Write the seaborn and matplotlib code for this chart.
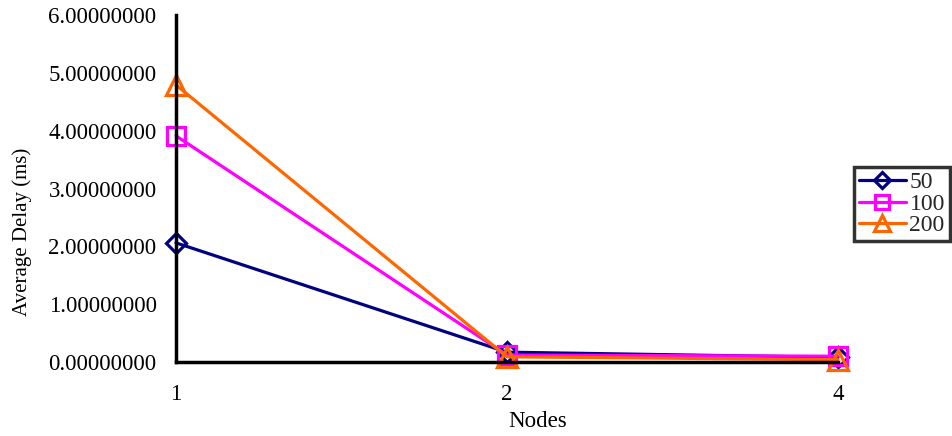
import matplotlib
matplotlib.use("Agg")
import matplotlib.pyplot as plt
import seaborn as sns
import pandas as pd
from matplotlib.ticker import FormatStrFormatter
from matplotlib.lines import Line2D

nodes = ["1", "2", "4"]
delay_50 = [2.06, 0.17, 0.08]
delay_100 = [3.91, 0.12, 0.10]
delay_200 = [4.79, 0.09, 0.04]
series_names = ["50", "100", "200"]

df = pd.DataFrame({
    "Nodes": nodes * 3,
    "Delay": delay_50 + delay_100 + delay_200,
    "Series": [s for s in series_names for _ in nodes],
})

sns.set_theme(style="white")
plt.rcParams["font.family"] = ["Liberation Serif", "DejaVu Serif"]

fig = plt.figure(figsize=(9.53, 4.36), dpi=100)
ax = fig.add_axes([176 / 953, 1 - 362 / 436, (838 - 176) / 953, (362 - 15) / 436])

palette = {"50": "#000080", "100": "#FF00FF", "200": "#FF6600"}
markers = {"50": "D", "100": "s", "200": "^"}
sizes = {"50": 10, "100": 13, "200": 15}

sns.lineplot(data=df, x="Nodes", y="Delay", hue="Series", style="Series",
             palette=palette, markers=markers, dashes=False, linewidth=2.3,
             markersize=13, markerfacecolor="none", markeredgewidth=2.3,
             ax=ax, legend=False, sort=False)

# per-series hollow markers
for line, name in zip(ax.lines, series_names):
    line.set_markeredgecolor(palette[name])
    line.set_markerfacecolor("none")
    line.set_markersize(sizes[name])
    line.set_clip_on(False)

ax.set_xlim(0, 2)
ax.set_ylim(0, 6)
ax.set_yticks([0, 1, 2, 3, 4, 5, 6])
ax.yaxis.set_major_formatter(FormatStrFormatter("%.8f"))
ax.set_xticks([0, 1, 2])
ax.set_xticklabels(nodes)

for side in ["top", "right"]:
    ax.spines[side].set_visible(False)
for side in ["left", "bottom"]:
    ax.spines[side].set_color("black")
    ax.spines[side].set_linewidth(2.5)

ax.tick_params(axis="y", direction="out", length=6, width=2, colors="black",
               labelsize=16.5, pad=8)
ax.tick_params(axis="x", direction="out", length=0, labelsize=16.5, pad=16,
               colors="black")
ax.set_xlabel("Nodes", fontsize=16.5, color="black")
ax.xaxis.set_label_coords(0.547, -0.172)
ax.xaxis.label.set_va("center")
ax.set_ylabel("Average Delay (ms)", fontsize=15, color="black")
ax.yaxis.set_label_coords(-0.232, 0.375)
ax.yaxis.label.set_va("center")
ax.grid(False)

handles = [Line2D([0], [0], color=palette[n], marker=markers[n], markersize=sizes[n] * 0.8,
                  markerfacecolor="none", markeredgecolor=palette[n],
                  markeredgewidth=2.3, linewidth=2.3) for n in series_names]
leg = fig.legend(handles, series_names, loc="upper left",
                 bbox_to_anchor=(854 / 953, 1 - 167 / 436), frameon=True,
                 fontsize=17, handlelength=2.0, handletextpad=0.15,
                 borderpad=0.2, labelspacing=0.0, fancybox=False,
                 borderaxespad=0)
leg.get_frame().set_edgecolor("black")
leg.get_frame().set_linewidth(2.5)

fig.savefig("out.png", dpi=100)
